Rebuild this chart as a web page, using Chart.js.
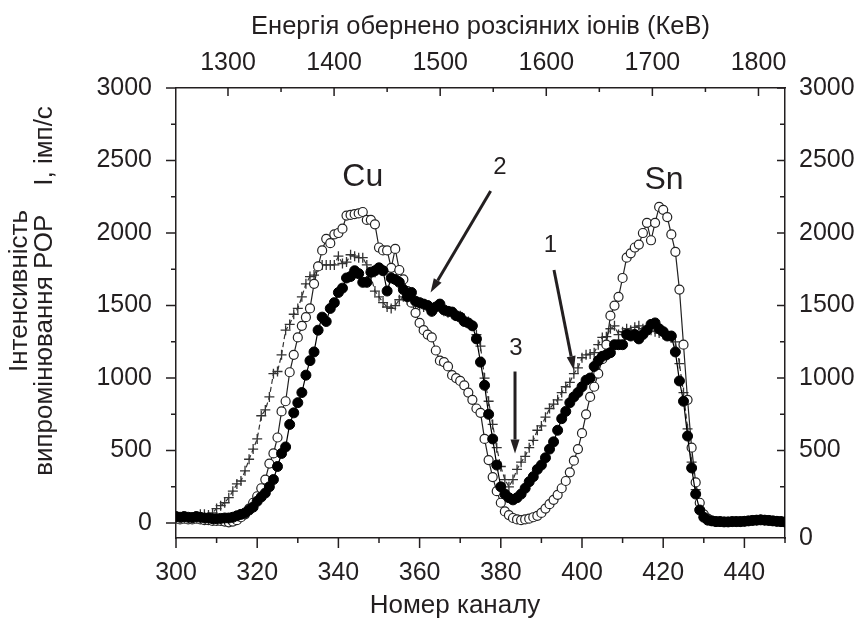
<!DOCTYPE html>
<html>
<head>
<meta charset="utf-8">
<script src="https://cdn.jsdelivr.net/npm/chart.js@4.4.0/dist/chart.umd.min.js"></script>
<style>
  html, body { margin: 0; padding: 0; background: #fff; }
  canvas { display: block; }
</style>
</head>
<body>
<canvas id="chartRbs" width="864" height="619"></canvas>
<script>
// номери каналів 300..450, по одному значенню на канал
const firstChannel = 300;

// зразок 1 - заповнені кружки
const filledCounts = [
    45, 40, 45, 40, 38, 45, 40, 35, 35, 30,
    30, 32, 35, 35, 40, 50, 60, 70, 90, 110,
    150, 180, 207, 250, 300, 390, 480, 525, 680, 760,
    830, 900, 1020, 1120, 1180, 1330, 1420, 1390, 1480, 1520,
    1590, 1620, 1690, 1700, 1740, 1720, 1660, 1660, 1730, 1740,
    1760, 1740, 1600, 1690, 1680, 1660, 1610, 1560, 1590, 1530,
    1520, 1510, 1500, 1460, 1490, 1510, 1470, 1460, 1455, 1430,
    1420, 1390, 1380, 1360, 1270, 1110, 950, 750, 580, 400,
    250, 200, 175, 160, 175, 200, 240, 285, 320, 370,
    400, 450, 510, 560, 640, 720, 770, 830, 870, 900,
    940, 985, 1000, 1080, 1120, 1150, 1160, 1175, 1230, 1230,
    1230, 1300, 1290, 1300, 1270, 1300, 1330, 1370, 1380, 1340,
    1320, 1290, 1290, 1180, 980, 840, 600, 380, 200, 90,
    40, 20, 15, 10, 10, 8, 8, 10, 10, 10,
    12, 15, 18, 20, 22, 20, 18, 15, 12, 10,
    8
];

// зразок 2 - порожні кружки
const openCounts = [
    30, 25, 30, 25, 25, 30, 25, 20, 20, 15,
    15, 15, 10, 5, 10, 20, 40, 60, 100, 140,
    185, 240, 300, 410, 480, 590, 770, 840, 1040, 1160,
    1280, 1360, 1420, 1480, 1650, 1770, 1880, 1960, 1930, 1990,
    2000, 2030, 2120, 2125, 2130, 2135, 2145, 2090, 2090, 2060,
    1900, 1880, 1880, 1760, 1890, 1745, 1680, 1600, 1520, 1450,
    1380, 1330, 1300, 1280, 1190, 1120, 1110, 1080, 1020, 1000,
    980, 950, 900, 850, 790, 760, 580, 434, 317, 220,
    140, 80, 55, 35, 25, 20, 25, 30, 40, 50,
    70, 100, 130, 160, 195, 240, 290, 350, 430, 510,
    620, 750, 870, 940, 1030, 1130, 1230, 1430, 1500, 1560,
    1690, 1830, 1860, 1900, 1920, 2000, 2070, 1950, 2070, 2180,
    2160, 2110, 1990, 1870, 1610, 1230, 850, 520, 280, 140,
    60, 30, 15, 10, 10, 8, 8, 10, 10, 10,
    12, 15, 18, 20, 22, 20, 18, 15, 12, 10,
    8
];

// зразок 3 - хрестики
const crossCounts = [
    40, 35, 40, 35, 40, 45, 60, 60, 55, 70,
    100, 120, 140, 175, 220, 270, 290, 360, 440, 510,
    580, 740, 780, 870, 1030, 1045, 1160, 1330, 1370, 1440,
    1480, 1560, 1650, 1700, 1710, 1770, 1780, 1780, 1780, 1780,
    1840, 1790, 1800, 1850, 1840, 1830, 1830, 1780, 1700, 1600,
    1560, 1520, 1490, 1480, 1500, 1540, 1560, 1540, 1560, 1510,
    1500, 1490, 1480, 1460, 1480, 1490, 1460, 1450, 1440, 1430,
    1430, 1410, 1390, 1360, 1300, 1220, 1000, 840, 680, 520,
    390, 300, 250, 300, 370, 420, 460, 520, 570, 640,
    670, 730, 790, 820, 850, 900, 940, 970, 1030, 1070,
    1140, 1160, 1165, 1175, 1230, 1280, 1285, 1340, 1360, 1300,
    1320, 1340, 1330, 1350, 1360, 1340, 1320, 1330, 1320, 1310,
    1300, 1300, 1280, 1250, 1100, 900, 650, 420, 230, 100,
    40, 25, 15, 10, 10, 8, 8, 10, 10, 10,
    12, 15, 18, 20, 22, 20, 18, 15, 12, 10,
    8
];

const channelTicks = [300, 320, 340, 360, 380, 400, 420, 440];
const energyTicks = [1300, 1400, 1500, 1600, 1700, 1800];
const countTicks = [0, 500, 1000, 1500, 2000, 2500, 3000];
const rightTickLabels = ['0', '500', '1000', '1500', '2000', '2500', '3000'];

const yMin = -103;
const yMax = 3000;
const eMin = 1251;
const eMax = 1825;

const ink = '#231f20';
const fontName = "'Liberation Sans', Arial, sans-serif";

// підписи на полі графіка (в координатах канал / інтенсивність)
const notes = [
    { text: 'Cu', x: 346, y: 2385, size: 32 },
    { text: 'Sn', x: 420.2, y: 2365, size: 32 },
    { text: '2', x: 379.8, y: 2450, size: 24 },
    { text: '1', x: 392.2, y: 1915, size: 24 },
    { text: '3', x: 383.7, y: 1205, size: 24 }
];
const arrows = [
    { from: [377.5, 2290], to: [362.7, 1590] },
    { from: [393.1, 1745], to: [398.0, 1055] },
    { from: [383.5, 1045], to: [383.5, 480] }
];

function toPoints(values) {
    return values.map((v, i) => ({ x: firstChannel + i, y: v }));
}

const rbsDecor = {
    id: 'rbsDecor',
    afterDraw(chart) {
        const ctx = chart.ctx;
        const sx = chart.scales.x;
        const sx2 = chart.scales.x2;
        const sy = chart.scales.y;
        const area = chart.chartArea;
        ctx.save();

        // засічки осей
        ctx.strokeStyle = ink;
        ctx.lineWidth = 1.5;
        ctx.beginPath();
        for (let v = 300; v <= 450; v += 10) {
            const px = sx.getPixelForValue(v);
            const len = v % 20 === 0 ? 10 : 5;
            ctx.moveTo(px, area.bottom);
            ctx.lineTo(px, area.bottom + len);
        }
        for (let v = 1300; v <= 1800; v += 50) {
            const px = sx2.getPixelForValue(v);
            const len = v % 100 === 0 ? 8 : 4;
            ctx.moveTo(px, area.top);
            ctx.lineTo(px, area.top + len);
        }
        for (let v = 0; v <= 3000; v += 250) {
            const py = sy.getPixelForValue(v);
            const len = v % 500 === 0 ? 10 : 5;
            ctx.moveTo(area.left, py);
            ctx.lineTo(area.left - len, py);
            if (v > 0) {
                ctx.moveTo(area.right, py);
                ctx.lineTo(area.right - (v % 500 === 0 ? 8 : 5), py);
            }
        }
        ctx.stroke();

        // стрілки
        ctx.fillStyle = ink;
        ctx.lineWidth = 3;
        arrows.forEach(a => {
            const x0 = sx.getPixelForValue(a.from[0]);
            const y0 = sy.getPixelForValue(a.from[1]);
            const x1 = sx.getPixelForValue(a.to[0]);
            const y1 = sy.getPixelForValue(a.to[1]);
            const ang = Math.atan2(y1 - y0, x1 - x0);
            const head = 14;
            const bx = x1 - head * Math.cos(ang);
            const by = y1 - head * Math.sin(ang);
            ctx.beginPath();
            ctx.moveTo(x0, y0);
            ctx.lineTo(bx, by);
            ctx.stroke();
            ctx.beginPath();
            ctx.moveTo(x1, y1);
            ctx.lineTo(bx + 4.5 * Math.sin(ang), by - 4.5 * Math.cos(ang));
            ctx.lineTo(bx - 4.5 * Math.sin(ang), by + 4.5 * Math.cos(ang));
            ctx.closePath();
            ctx.fill();
        });

        // текст
        ctx.textAlign = 'center';
        ctx.textBaseline = 'middle';
        notes.forEach(n => {
            ctx.font = n.size + 'px ' + fontName;
            ctx.fillText(n.text, sx.getPixelForValue(n.x), sy.getPixelForValue(n.y));
        });

        // назва нижньої осі
        ctx.font = '26px ' + fontName;
        ctx.fillText('Номер каналу', 455, 606);

        // назва лівої осі
        ctx.font = '26px ' + fontName;
        ctx.translate(0, 291);
        ctx.rotate(-Math.PI / 2);
        ctx.fillText('Інтенсивність', 0, 20);
        ctx.fillText('випромінювання РОР    I, імп/с', 0, 45);
        ctx.restore();
    }
};

const tickFont = { family: fontName, size: 25 };
const plainNumber = v => String(v);

const config = {
    type: 'line',
    data: {
        datasets: [
            {
                data: toPoints(filledCounts),
                borderColor: '#000',
                borderWidth: 1.2,
                backgroundColor: '#000',
                pointBackgroundColor: '#000',
                pointBorderColor: '#000',
                pointRadius: 5,
                pointBorderWidth: 1
            },
            {
                data: toPoints(openCounts),
                borderColor: '#222',
                borderWidth: 1.2,
                pointBackgroundColor: '#fff',
                pointBorderColor: '#222',
                pointRadius: 4.5,
                pointBorderWidth: 1.2
            },
            {
                data: toPoints(crossCounts),
                borderColor: '#333',
                borderWidth: 1.2,
                borderDash: [5, 3],
                pointStyle: 'cross',
                pointBorderColor: '#333',
                pointRadius: 5,
                pointBorderWidth: 1.3
            }
        ]
    },
    options: {
        responsive: false,
        animation: false,
        devicePixelRatio: 1,
        layout: { padding: 0 },
        plugins: {
            legend: { display: false },
            tooltip: { enabled: false }
        },
        scales: {
            x: {
                type: 'linear',
                position: 'bottom',
                min: 300,
                max: 450,
                afterBuildTicks: s => { s.ticks = channelTicks.map(v => ({ value: v })); },
                afterFit: s => { s.height = 81; },
                grid: { display: false, drawTicks: false },
                border: { display: true, color: ink, width: 1.5 },
                ticks: { color: ink, font: tickFont, padding: 20, autoSkip: false, maxRotation: 0, callback: plainNumber }
            },
            x2: {
                type: 'linear',
                position: 'top',
                min: eMin,
                max: eMax,
                afterBuildTicks: s => { s.ticks = energyTicks.map(v => ({ value: v })); },
                afterFit: s => { s.height = 88; },
                grid: { display: false, drawTicks: false },
                border: { display: true, color: ink, width: 1.5 },
                ticks: { color: ink, font: tickFont, padding: 10, autoSkip: false, maxRotation: 0, callback: plainNumber },
                title: { display: true, text: 'Енергія обернено розсіяних іонів (КеВ)', color: ink, font: { family: fontName, size: 25.5 }, padding: { top: 12, bottom: 0 } }
            },
            y: {
                type: 'linear',
                position: 'left',
                min: yMin,
                max: yMax,
                afterBuildTicks: s => { s.ticks = countTicks.map(v => ({ value: v })); },
                afterFit: s => { s.width = 176; },
                grid: { display: false, drawTicks: false },
                border: { display: true, color: ink, width: 1.5 },
                ticks: { color: ink, font: tickFont, padding: 24, autoSkip: false, callback: plainNumber }
            },
            y2: {
                type: 'linear',
                position: 'right',
                min: yMin,
                max: yMax,
                afterBuildTicks: s => {
                    s.ticks = countTicks.map((v, i) => ({ value: i === 0 ? yMin : v }));
                },
                afterFit: s => { s.width = 79; },
                grid: { display: false, drawTicks: false },
                border: { display: true, color: ink, width: 1.5 },
                ticks: {
                    color: ink,
                    font: tickFont,
                    padding: 14,
                    autoSkip: false,
                    callback: (value, index) => rightTickLabels[index]
                }
            }
        }
    },
    plugins: [rbsDecor]
};

let chartRbs = new Chart(document.getElementById('chartRbs'), config);
</script>
</body>
</html>
